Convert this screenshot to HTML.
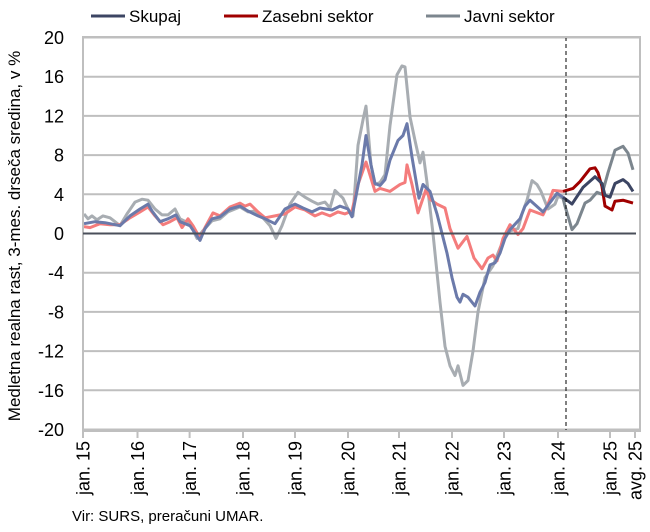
<!DOCTYPE html>
<html><head><meta charset="utf-8"><style>
body{margin:0;background:#fff;}
svg{display:block;font-family:"Liberation Sans",sans-serif;}
</style></head><body>
<svg id="s" width="650" height="532" viewBox="0 0 650 532">
<g id="grid"></g>
<g id="ser"></g>
<line x1="566" y1="37" x2="566" y2="431" stroke="#000" stroke-width="1" stroke-dasharray="4,3"/>
<rect x="83" y="37" width="557" height="394" fill="none" stroke="#bfbfbf" stroke-width="2"/>
<line x1="83" y1="233.5" x2="636" y2="233.5" stroke="#4a4f5a" stroke-width="2"/>
<g id="lab" font-size="18" fill="#000"></g>
<text transform="translate(20,236) rotate(-90)" text-anchor="middle" font-size="17">Medletna realna rast, 3-mes. drseča sredina, v %</text>
<g font-size="17">
<line x1="91" y1="16" x2="125" y2="16" stroke="#3c4563" stroke-width="3"/><text x="129" y="22">Skupaj</text>
<line x1="224" y1="16" x2="258" y2="16" stroke="#a00000" stroke-width="3"/><text x="262" y="22">Zasebni sektor</text>
<line x1="426" y1="16" x2="460" y2="16" stroke="#7c868e" stroke-width="3"/><text x="464" y="22">Javni sektor</text>
</g>
<text x="72" y="521" font-size="15">Vir: SURS, preračuni UMAR.</text>
</svg>
<script>
const Y=v=>233.5-v*9.8;
let g='';
for(let v=-20;v<=20;v+=4){ if(v!==0) g+=`<line x1="83" y1="${Y(v)}" x2="640" y2="${Y(v)}" stroke="#bfbfbf" stroke-width="2"/>`;}
document.getElementById('grid').innerHTML=g;
let l='';
for(let v=-20;v<=20;v+=4){l+=`<text x="64" y="${Y(v)+6.5}" text-anchor="end">${v}</text>`;}
const xs=[[83,'jan. 15'],[137.5,'jan. 16'],[189.6,'jan. 17'],[243,'jan. 18'],[295,'jan. 19'],[348,'jan. 20'],[399,'jan. 21'],[452,'jan. 22'],[504,'jan. 23'],[558,'jan. 24'],[610,'jan. 25'],[635,'avg. 25']];
xs.forEach(([x,t])=>{l+=`<line x1="${x}" y1="431" x2="${x}" y2="438" stroke="#bfbfbf" stroke-width="2"/><text transform="translate(${x+6.5},441) rotate(-90)" text-anchor="end">${t}</text>`;});
document.getElementById('lab').innerHTML=l;
function P(a){let s='';for(let i=0;i<a.length;i+=2)s+=a[i]+','+Y(a[i+1]).toFixed(1)+' ';return s;}
const sk1=[84,1.0,95,1.2,105,1.1,115,0.9,120,0.8,130,1.8,140,2.5,148,3.0,152,2.3,160,1.2,168,1.5,176,1.9,180,1.2,190,0.8,200,-0.7,205,0.5,212,1.5,220,1.7,230,2.5,240,2.8,248,2.3,258,1.8,265,1.5,275,1.0,285,2.5,295,3.0,303,2.6,312,2.2,320,2.6,332,2.4,340,2.8,348,2.5,352,1.7,362,7,366,10,371,7,375,5.1,380,4.9,385,5.5,390,7.5,398,9.5,403,10,407,11.2,412,7.8,419,3.6,423,5,430,4.3,437,2,442,0,447,-2,452,-4.5,457,-6.5,460,-7,463,-6.2,468,-6.5,475,-7.4,480,-6,485,-5,490,-3.2,495,-3,500,-2,505,-0.5,510,0.4,520,1.5,525,2.8,530,3.4,543,2.2,557,4.1,563,3.7];
const sk2=[563,3.7,572,3.0,583,4.7,595,5.8,602,5.1,605,3.9,610,3.7,615,5.1,623,5.5,628,5.1,633,4.3];
const z1=[84,0.7,90,0.6,100,1.0,110,0.9,120,0.9,130,1.6,140,2.2,148,2.7,155,1.8,163,0.9,170,1.2,177,1.6,182,0.6,188,1.5,193,0.8,200,-0.5,205,0.6,213,2.1,220,1.8,230,2.7,240,3.1,245,2.8,250,3.0,258,2.2,265,1.6,275,1.8,285,2.0,295,2.7,305,2.4,315,1.8,322,2.1,330,1.8,338,2.2,345,2.0,352,2.3,358,5,366,7.3,375,4.3,380,4.6,390,4.3,400,5.0,405,5.2,407,7.0,412,5,418,2.1,426,4.5,430,3.5,437,3,445,2.6,450,0.5,458,-1.5,467,-0.3,474,-2.5,482,-3.6,488,-2.5,493,-2.2,497,-2.8,503,-0.5,510,0.9,518,-0.1,523,0.5,530,2.4,543,1.9,548,3.0,553,4.4,563,4.3];
const z2=[563,4.3,573,4.6,580,5.3,590,6.6,595,6.7,598,6.2,602,4.8,605,2.8,612,2.4,615,3.3,623,3.4,633,3.1];
const j1=[84,2.0,88,1.5,92,1.8,97,1.4,103,1.8,110,1.6,115,1.2,120,0.8,127,2.0,135,3.2,142,3.5,148,3.4,155,2.5,162,1.9,168,1.9,175,2.5,180,1.5,190,1.0,197,-0.5,203,0.3,212,1.3,220,1.5,228,2.2,235,2.5,240,2.7,248,2.2,255,2.3,262,1.7,270,0.8,276,-0.5,282,0.8,290,3,298,4.2,305,3.7,312,3.3,318,3.0,325,3.2,330,2.6,335,4.4,343,3.6,348,2.5,353,1.8,358,9,363,11.6,366,13,371,7,375,5,380,5.2,385,6,390,11,397,16.2,402,17.1,405,17,410,11.9,415,9.5,420,7.2,423,8.3,427,5.2,433,0,440,-7,445,-11.5,450,-13.5,455,-14.5,458,-13.5,463,-15.5,468,-15,473,-12,478,-8,485,-4.5,493,-3.3,500,-1.5,508,0.2,518,0.5,522,2,527,3.4,532,5.4,537,5.0,541,4.3,548,2.5,555,3.0,558,3.8,563,3.6];
const j2=[563,3.6,565,2.8,572,0.4,577,1.0,585,3.1,590,3.4,597,4.2,602,4.0,608,6.2,615,8.5,623,8.9,628,8.2,633,6.5];
const L=(a,c)=>`<polyline points="${P(a)}" fill="none" stroke="${c}" stroke-width="3" stroke-linejoin="round"/>`;
document.getElementById('ser').innerHTML=L(j1,'#a8adb2')+L(z1,'#f47c7c')+L(sk1,'#6b7aaa')+L(j2,'#7c868e')+L(z2,'#a00000')+L(sk2,'#3c4563');
</script>
</body></html>
